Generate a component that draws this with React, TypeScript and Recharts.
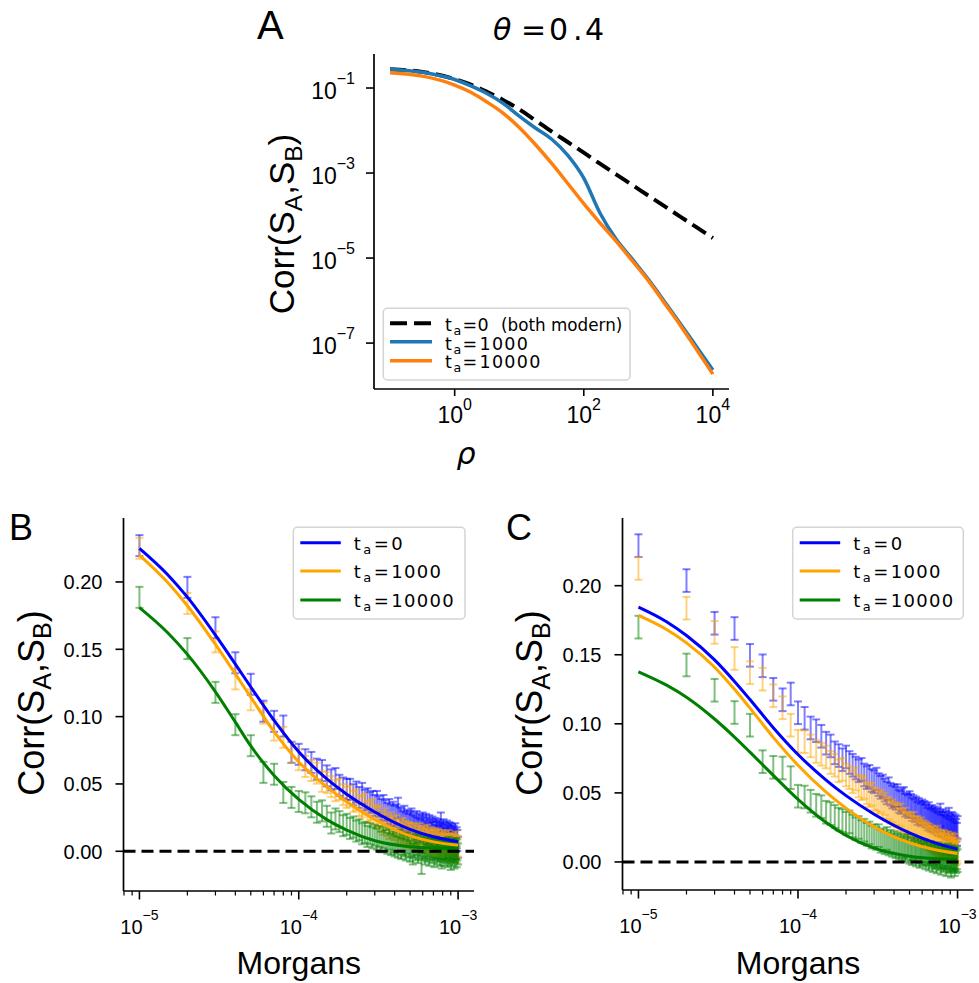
import React from "react";
import {
  ComposedChart,
  Line,
  Scatter,
  ErrorBar,
  XAxis,
  YAxis,
  ReferenceLine,
} from "recharts";

const W = 979;
const H = 983;
const SANS = "'Liberation Sans', Arial, sans-serif";
const DEJAVU = "'DejaVu Sans', sans-serif";

// ---------- panel A: theta = 0.4, correlation vs rho (log-log) ----------
const RHO = [
  0.1, 0.316, 1, 1.78, 3.16, 5.62, 10, 17.8, 31.6, 56.2, 100, 178, 316, 562, 1000, 1778, 3162, 5623, 10000,
];
const A_TA0 = [
  0.2754, 0.2399, 0.1622, 0.1202, 0.0813, 0.0525, 0.0316, 0.0174, 0.00955, 0.00537, 0.00302, 0.00166,
  0.000933, 0.000525, 0.000295, 0.000166, 9.33e-5, 5.25e-5, 2.95e-5,
];
const A_TA1000 = [
  0.2754, 0.2344, 0.1585, 0.1122, 0.0741, 0.0437, 0.0219, 0.01148, 0.00631, 0.00263, 0.000759, 0.000115,
  2.82e-5, 9.55e-6, 3.16e-6, 9.55e-7, 2.82e-7, 8.13e-8, 2.34e-8,
];
const A_TA10000 = [
  0.2291, 0.1905, 0.1175, 0.0794, 0.0468, 0.0257, 0.01175, 0.00468, 0.0017, 0.000575, 0.000191, 6.76e-5,
  2.51e-5, 8.71e-6, 2.95e-6, 8.71e-7, 2.57e-7, 6.92e-8, 1.86e-8,
];
const A_XTICKS = [1, 100, 10000];
const A_YTICKS = [1e-7, 1e-5, 1e-3, 1e-1];

// ---------- panels B and C: distance grid (in units of 1e-5 Morgans) ----------
const STEPS = [
  1, 2, 3, 4, 5, 6, 7, 8, 9, 10, 11, 12, 13, 14, 15, 16, 17, 18, 19, 20,
  21, 22, 23, 24, 25, 26, 27, 28, 29, 30, 31, 32, 33, 34, 35, 36, 37, 38, 39, 40,
  41, 42, 43, 44, 45, 46, 47, 48, 49, 50, 51, 52, 53, 54, 55, 56, 57, 58, 59, 60,
  61, 62, 63, 64, 65, 66, 67, 68, 69, 70, 71, 72, 73, 74, 75, 76, 77, 78, 79, 80,
  81, 82, 83, 84, 85, 86, 87, 88, 89, 90, 91, 92, 93, 94, 95, 96, 97, 98, 99, 100,
];
const MORGANS = STEPS.map((k) => k * 1e-5);

const B_ERR = 0.0078;
const C_ERR = 0.0082;

const B_PTS_TA0 = [
  0.227, 0.196, 0.166, 0.140, 0.124, 0.104, 0.0965, 0.093, 0.0735, 0.072,
  0.068, 0.066, 0.061, 0.060, 0.056, 0.053, 0.054, 0.049, 0.047, 0.046,
  0.046, 0.042, 0.044, 0.040, 0.043, 0.038, 0.039, 0.036, 0.037, 0.034,
  0.037, 0.033, 0.031, 0.034, 0.030, 0.028, 0.031, 0.027, 0.029, 0.026,
  0.027, 0.032, 0.025, 0.024, 0.022, 0.026, 0.021, 0.023, 0.020, 0.022,
  0.024, 0.019, 0.021, 0.018, 0.022, 0.017, 0.020, 0.016, 0.019, 0.021,
  0.018, 0.015, 0.020, 0.017, 0.013, 0.019, 0.016, 0.014, 0.018, 0.015,
  0.012, 0.017, 0.014, 0.016, 0.011, 0.015, 0.013, 0.021, 0.012, 0.014,
  0.016, 0.010, 0.013, 0.009, 0.015, 0.012, 0.011, 0.014, 0.008, 0.013,
  0.010, 0.012, 0.007, 0.011, 0.009, 0.013, 0.002, 0.010, 0.008, 0.003,
];
const B_PTS_TA1000 = [
  0.225, 0.184, 0.1555, 0.128, 0.1125, 0.1025, 0.090, 0.0846, 0.0734, 0.068,
  0.063, 0.060, 0.058, 0.052, 0.051, 0.048, 0.045, 0.046, 0.042, 0.040,
  0.041, 0.037, 0.038, 0.034, 0.033, 0.035, 0.030, 0.029, 0.031, 0.027,
  0.025, 0.026, 0.022, 0.020, 0.024, 0.019, 0.017, 0.021, 0.018, 0.016,
  0.019, 0.014, 0.016, 0.013, 0.017, 0.012, 0.015, 0.011, 0.014, 0.013,
  0.010, 0.013, 0.009, 0.012, 0.008, 0.011, 0.013, 0.007, 0.010, 0.009,
  0.011, 0.006, 0.009, 0.012, 0.007, 0.008, 0.005, 0.010, 0.006, 0.009,
  0.004, 0.008, 0.007, 0.003, 0.009, 0.006, 0.005, 0.002, 0.008, 0.004,
  0.006, 0.003, 0.007, 0.001, 0.005, 0.004, 0.008, 0.002, 0.005, 0.003,
  0.001, 0.006, 0.004, 0.000, 0.005, 0.002, 0.007, -0.001, 0.004, 0.003,
];
const B_PTS_TA10000 = [
  0.1886, 0.1505, 0.118, 0.094, 0.0784, 0.0586, 0.0572, 0.0437, 0.040, 0.037,
  0.036, 0.033, 0.029, 0.030, 0.026, 0.021, 0.024, 0.022, 0.019, 0.020,
  0.017, 0.018, 0.015, 0.016, 0.013, 0.014, 0.011, 0.013, 0.010, 0.012,
  0.009, 0.011, 0.007, 0.010, 0.008, 0.006, 0.009, 0.005, 0.007, 0.004,
  0.006, 0.003, 0.008, 0.002, 0.005, 0.004, 0.001, 0.006, 0.003, 0.000,
  0.004, -0.002, 0.003, 0.001, 0.005, -0.001, 0.002, 0.004, -0.009, 0.001,
  0.003, -0.002, 0.002, 0.000, 0.004, -0.003, 0.001, 0.003, -0.001, 0.002,
  -0.004, 0.001, 0.003, -0.002, 0.000, 0.002, -0.003, 0.001, -0.005, 0.002,
  0.000, -0.003, 0.002, -0.001, 0.001, -0.004, 0.003, -0.002, 0.000, -0.006,
  0.001, -0.003, 0.002, -0.001, -0.005, 0.000, 0.002, -0.004, 0.001, -0.002,
];

const C_PTS_TA0 = [
  0.229, 0.2037, 0.1728, 0.169, 0.1496, 0.142, 0.125, 0.1174, 0.1216, 0.108,
  0.104, 0.097, 0.095, 0.091, 0.086, 0.084, 0.079, 0.077, 0.074, 0.076,
  0.072, 0.070, 0.068, 0.066, 0.067, 0.063, 0.061, 0.062, 0.059, 0.058,
  0.060, 0.056, 0.054, 0.055, 0.052, 0.050, 0.053, 0.049, 0.047, 0.048,
  0.046, 0.048, 0.044, 0.043, 0.045, 0.046, 0.041, 0.042, 0.040, 0.043,
  0.041, 0.038, 0.040, 0.037, 0.039, 0.035, 0.038, 0.036, 0.034, 0.037,
  0.035, 0.036, 0.033, 0.034, 0.031, 0.035, 0.032, 0.030, 0.033, 0.031,
  0.029, 0.032, 0.030, 0.028, 0.031, 0.027, 0.029, 0.034, 0.026, 0.028,
  0.030, 0.026, 0.028, 0.025, 0.029, 0.024, 0.027, 0.031, 0.023, 0.026,
  0.025, 0.028, 0.022, 0.027, 0.024, 0.021, 0.026, 0.023, 0.020, 0.025,
];
const C_PTS_TA1000 = [
  0.2125, 0.1837, 0.1662, 0.1473, 0.137, 0.1323, 0.1203, 0.1116, 0.099, 0.0874,
  0.087, 0.084, 0.080, 0.078, 0.076, 0.072, 0.070, 0.066, 0.067, 0.063,
  0.061, 0.058, 0.060, 0.055, 0.053, 0.054, 0.050, 0.048, 0.049, 0.046,
  0.045, 0.043, 0.044, 0.040, 0.042, 0.038, 0.039, 0.036, 0.037, 0.034,
  0.035, 0.033, 0.031, 0.034, 0.030, 0.029, 0.031, 0.027, 0.028, 0.026,
  0.027, 0.025, 0.028, 0.024, 0.022, 0.025, 0.023, 0.021, 0.024, 0.020,
  0.022, 0.019, 0.021, 0.018, 0.020, 0.017, 0.019, 0.016, 0.018, 0.015,
  0.017, 0.014, 0.016, 0.013, 0.018, 0.012, 0.015, 0.011, 0.014, 0.013,
  0.012, 0.015, 0.010, 0.013, 0.011, 0.009, 0.014, 0.010, 0.012, 0.008,
  0.011, 0.009, 0.013, 0.007, 0.010, 0.008, 0.012, 0.006, 0.009, 0.007,
];
const C_PTS_TA10000 = [
  0.170, 0.1426, 0.1243, 0.1082, 0.099, 0.0726, 0.0685, 0.068, 0.061, 0.0476,
  0.047, 0.044, 0.041, 0.040, 0.036, 0.035, 0.033, 0.031, 0.030, 0.028,
  0.029, 0.026, 0.024, 0.025, 0.022, 0.023, 0.020, 0.021, 0.018, 0.019,
  0.017, 0.019, 0.015, 0.016, 0.014, 0.017, 0.013, 0.015, 0.012, 0.014,
  0.011, 0.013, 0.010, 0.012, 0.009, 0.011, 0.008, 0.010, 0.012, 0.007,
  0.009, 0.006, 0.010, 0.008, 0.005, 0.009, 0.007, 0.004, 0.008, 0.006,
  0.005, 0.008, 0.003, 0.007, 0.006, 0.002, 0.005, 0.007, 0.004, 0.001,
  0.006, 0.003, 0.005, 0.000, 0.004, 0.006, 0.002, 0.004, -0.001, 0.003,
  0.005, 0.001, 0.003, 0.004, -0.002, 0.002, 0.005, 0.000, 0.003, 0.001,
  -0.003, 0.004, 0.002, 0.001, 0.003, -0.002, 0.002, 0.000, 0.003, 0.001,
];

// theoretical curves for B and C (roughly log-spaced sample points)
const FIT_X = [1e-5, 1.5e-5, 2e-5, 3e-5, 4e-5, 5e-5, 7e-5, 1e-4, 1.5e-4, 2e-4, 3e-4, 5e-4, 7e-4, 1e-3];
const B_FIT_TA0 = [0.225, 0.2056, 0.1887, 0.1605, 0.139, 0.122, 0.0972, 0.0739, 0.0537, 0.0424, 0.0292, 0.0163, 0.0108, 0.0071];
const B_FIT_TA1000 = [0.220, 0.1998, 0.1823, 0.1536, 0.1317, 0.1144, 0.0888, 0.0663, 0.0478, 0.0368, 0.0236, 0.0114, 0.007, 0.0045];
const B_FIT_TA10000 = [0.181, 0.1625, 0.1462, 0.1184, 0.0959, 0.0782, 0.0563, 0.0385, 0.0235, 0.0157, 0.0078, 0.0034, 0.0025, 0.0022];
const C_FIT_TA0 = [0.1845, 0.1739, 0.1639, 0.1463, 0.1307, 0.1176, 0.0972, 0.0778, 0.0593, 0.048, 0.0346, 0.0211, 0.0144, 0.0093];
const C_FIT_TA1000 = [0.1785, 0.1683, 0.1586, 0.141, 0.125, 0.1114, 0.0902, 0.070, 0.0506, 0.039, 0.0254, 0.0139, 0.0092, 0.0061];
const C_FIT_TA10000 = [0.1377, 0.128, 0.1193, 0.1035, 0.0904, 0.0795, 0.0627, 0.0453, 0.0286, 0.0192, 0.010, 0.0042, 0.0025, 0.0019];

const BC_XTICKS = [
  8e-6, 9e-6, 1e-5, 2e-5, 3e-5, 4e-5, 5e-5, 6e-5, 7e-5, 8e-5, 9e-5,
  1e-4, 2e-4, 3e-4, 4e-4, 5e-4, 6e-4, 7e-4, 8e-4, 9e-4, 1e-3,
];
const BC_YTICKS = [0, 0.05, 0.1, 0.15, 0.2];

const BLUE = "#0000ff";
const ORANGE = "#ffa500";
const GREEN = "#008000";

// plot areas in page pixels
const PA = { left: 374, right: 729, top: 54, bottom: 389 };
const PB = { left: 123.5, right: 474, top: 518, bottom: 891 };
const PC = { left: 622.5, right: 973.5, top: 518, bottom: 890 };

const Y_AXIS_W = 60;
const X_AXIS_H = 30;
const marginFor = (p: typeof PA) => ({
  left: p.left - Y_AXIS_W,
  right: W - p.right,
  top: p.top,
  bottom: H - p.bottom - X_AXIS_H,
});

const pairs = (xs: number[], ys: number[]) => xs.map((x, i) => ({ x, y: ys[i] }));
const withErr = (xs: number[], ys: number[], err: number) =>
  xs.map((x, i) => ({ x, y: ys[i], err }));

const supText = (e: number) => (e < 0 ? "\u2212" + Math.abs(e) : String(e));

const EmptyShape = () => <g />;

const makeLogXTick =
  (axisY: number, o: { major: number; minor: number; font: number; sup: number; base: number; supDy: number }) =>
  (props: any) => {
    const { x, payload } = props;
    const lg = Math.log10(payload.value);
    const isMajor = Math.abs(lg - Math.round(lg)) < 1e-6;
    return (
      <g>
        <line
          x1={x}
          x2={x}
          y1={axisY}
          y2={axisY + (isMajor ? o.major : o.minor)}
          stroke="#000"
          strokeWidth={isMajor ? 1.6 : 1.2}
        />
        {isMajor && (
          <text x={x} y={axisY + o.base} textAnchor="middle" fontFamily={SANS} fontSize={o.font} fill="#000">
            10
            <tspan dy={o.supDy} fontSize={o.sup}>
              {supText(Math.round(lg))}
            </tspan>
          </text>
        )}
      </g>
    );
  };

const makeLogYTick = (axisX: number) => (props: any) => {
  const { y, payload } = props;
  const e = Math.round(Math.log10(payload.value));
  return (
    <g>
      <line x1={axisX - 8} x2={axisX} y1={y} y2={y} stroke="#000" strokeWidth={1.6} />
      <text x={axisX - 19} y={y + 11} textAnchor="end" fontFamily={SANS} fontSize={23} fill="#000">
        10
        <tspan dy={-15} fontSize={16}>
          {supText(e)}
        </tspan>
      </text>
    </g>
  );
};

const makeLinYTick = (axisX: number) => (props: any) => {
  const { y, payload } = props;
  return (
    <g>
      <line x1={axisX - 8} x2={axisX} y1={y} y2={y} stroke="#000" strokeWidth={1.6} />
      <text x={axisX - 21} y={y + 7.5} textAnchor="end" fontFamily={SANS} fontSize={20} fill="#000">
        {Number(payload.value).toFixed(2)}
      </text>
    </g>
  );
};

const spine = { stroke: "#000", strokeWidth: 1.7 };

const PanelA = () => (
  <ComposedChart width={W} height={H} margin={marginFor(PA)}>
    <XAxis
      dataKey="x"
      type="number"
      scale="log"
      domain={[Math.pow(10, -1.25), Math.pow(10, 4.25)]}
      allowDataOverflow
      ticks={A_XTICKS}
      interval={0}
      height={X_AXIS_H}
      axisLine={spine}
      tickLine={false}
      tick={makeLogXTick(PA.bottom, { major: 7, minor: 4, font: 23, sup: 16, base: 34, supDy: -13 })}
    />
    <YAxis
      dataKey="y"
      type="number"
      scale="log"
      domain={[Math.pow(10, -8.08), Math.pow(10, -0.2)]}
      allowDataOverflow
      ticks={A_YTICKS}
      interval={0}
      width={Y_AXIS_W}
      axisLine={spine}
      tickLine={false}
      tick={makeLogYTick(PA.left)}
    />
    <Line data={pairs(RHO, A_TA0)} dataKey="y" type="monotone" stroke="#000" strokeWidth={4} strokeDasharray="16 7" dot={false} isAnimationActive={false} />
    <Line data={pairs(RHO, A_TA1000)} dataKey="y" type="monotone" stroke="#1f77b4" strokeWidth={3.5} dot={false} isAnimationActive={false} />
    <Line data={pairs(RHO, A_TA10000)} dataKey="y" type="monotone" stroke="#ff7f0e" strokeWidth={3.5} dot={false} isAnimationActive={false} />
  </ComposedChart>
);

const ErrPanel = ({
  p,
  yDomain,
  pts,
  fits,
  err,
}: {
  p: typeof PA;
  yDomain: [number, number];
  pts: number[][];
  fits: number[][];
  err: number;
}) => {
  const colors = [BLUE, ORANGE, GREEN];
  return (
    <ComposedChart width={W} height={H} margin={marginFor(p)}>
      <XAxis
        dataKey="x"
        type="number"
        scale="log"
        domain={[Math.pow(10, -5.1), Math.pow(10, -2.9)]}
        allowDataOverflow
        ticks={BC_XTICKS}
        interval={0}
        height={X_AXIS_H}
        axisLine={spine}
        tickLine={false}
        tick={makeLogXTick(p.bottom, { major: 8.5, minor: 4.5, font: 20, sup: 14, base: 42.5, supDy: -14 })}
      />
      <YAxis
        dataKey="y"
        type="number"
        domain={yDomain}
        allowDataOverflow
        ticks={BC_YTICKS}
        interval={0}
        width={Y_AXIS_W}
        axisLine={spine}
        tickLine={false}
        tick={makeLinYTick(p.left)}
      />
      {pts.map((ys, i) => (
        <Scatter
          key={"s" + i}
          data={withErr(MORGANS, ys, err)}
          dataKey="y"
          shape={EmptyShape}
          isAnimationActive={false}
        >
          <ErrorBar
            dataKey="err"
            direction="y"
            width={4}
            stroke={colors[i]}
            strokeOpacity={0.5}
            strokeWidth={2}
            isAnimationActive={false}
          />
        </Scatter>
      ))}
      {fits.map((ys, i) => (
        <Line
          key={"l" + i}
          data={pairs(FIT_X, ys)}
          dataKey="y"
          type="monotone"
          stroke={colors[i]}
          strokeWidth={3}
          dot={false}
          isAnimationActive={false}
        />
      ))}
      <ReferenceLine y={0} stroke="#000" strokeWidth={3} strokeDasharray="12 6" />
    </ComposedChart>
  );
};

const CorrLabel = ({ x, y, size }: { x: number; y: number; size: number }) => {
  const s = size * 0.7;
  const d = size * 0.22;
  return (
    <text
      transform={`translate(${x},${y}) rotate(-90)`}
      textAnchor="middle"
      fontFamily={SANS}
      fontSize={size}
      fill="#000"
    >
      Corr(S
      <tspan fontSize={s} dy={d}>A</tspan>
      <tspan dy={-d}>,S</tspan>
      <tspan fontSize={s} dy={d}>B</tspan>
      <tspan dy={-d}>)</tspan>
    </text>
  );
};

// t_a = value legend text
const TaText = ({
  x,
  y,
  value,
  size,
  gaps,
}: {
  x: number;
  y: number;
  value: string;
  size: number;
  gaps: [number, number, number];
}) => (
  <g fontFamily={DEJAVU} fill="#000">
    <text x={x} y={y} fontSize={size}>t</text>
    <text x={x + gaps[0]} y={y + 4} fontSize={size * 0.72}>a</text>
    <text x={x + gaps[1]} y={y} fontSize={size}>=</text>
    <text x={x + gaps[2]} y={y} fontSize={size} letterSpacing={1.3}>{value}</text>
  </g>
);

const LegendBC = ({ x, y, w }: { x: number; y: number; w: number }) => {
  const labels = ["0", "1000", "10000"];
  const colors = [BLUE, ORANGE, GREEN];
  const rows = [15.5, 43.8, 72.8];
  return (
    <g>
      <rect x={x} y={y} width={w} height={91.7} rx={4} fill="#fff" fillOpacity={0.8} stroke="#d4d4d4" strokeWidth={1.5} />
      {labels.map((lab, i) => (
        <g key={lab}>
          <line x1={x + 7} x2={x + 47.5} y1={y + rows[i]} y2={y + rows[i]} stroke={colors[i]} strokeWidth={3} />
          <TaText x={x + 60.5} y={y + rows[i] + 7} value={lab} size={18} gaps={[9.5, 20, 37.5]} />
        </g>
      ))}
    </g>
  );
};

const LegendA = () => {
  const x = 383.3;
  const y = 308.3;
  return (
    <g>
      <rect x={x} y={y} width={246.7} height={71.7} rx={4} fill="#fff" fillOpacity={0.8} stroke="#d4d4d4" strokeWidth={1.5} />
      <line x1={390} x2={432} y1={323.3} y2={323.3} stroke="#000" strokeWidth={4} strokeDasharray="17 7" />
      <line x1={390} x2={432} y1={341.7} y2={341.7} stroke="#1f77b4" strokeWidth={3.5} />
      <line x1={390} x2={432} y1={360.7} y2={360.7} stroke="#ff7f0e" strokeWidth={3.5} />
      <TaText x={445} y={331} value="0" size={17.5} gaps={[8.5, 17.5, 32.5]} />
      <text x={501} y={331} fontFamily={DEJAVU} fontSize={16.8} fill="#000">(both</text>
      <text x={551} y={331} fontFamily={DEJAVU} fontSize={16.8} fill="#000">modern)</text>
      <TaText x={445} y={349.5} value="1000" size={17.5} gaps={[8.5, 17.5, 34.5]} />
      <TaText x={445} y={368.3} value="10000" size={17.5} gaps={[8.5, 17.5, 34.5]} />
    </g>
  );
};

const Overlay = () => (
  <svg width={W} height={H} style={{ position: "absolute", left: 0, top: 0, pointerEvents: "none" }}>
    {/* panel letters */}
    <text x={257} y={39} fontFamily={SANS} fontSize={40} fill="#000">A</text>
    <text x={9} y={540} fontFamily={SANS} fontSize={36} fill="#000">B</text>
    <text x={506} y={540} fontFamily={SANS} fontSize={36} fill="#000">C</text>

    {/* panel A title and axis labels */}
    <g fontFamily={DEJAVU} fontSize={30} fill="#000">
      <text x={493} y={40} fontStyle="italic">θ</text>
      <text x={521} y={40}>=</text>
      <text x={549} y={40}>0</text>
      <text x={573} y={40}>.</text>
      <text x={585} y={40}>4</text>
      <text x={466} y={464} textAnchor="middle" fontStyle="italic">ρ</text>
    </g>
    <CorrLabel x={294} y={224} size={35} />
    <LegendA />

    {/* panel B labels */}
    <CorrLabel x={43.5} y={703} size={36} />
    <text x={(PB.left + PB.right) / 2} y={974} textAnchor="middle" fontFamily={SANS} fontSize={32} fill="#000">
      Morgans
    </text>
    <LegendBC x={293.3} y={527.3} w={171.7} />

    {/* panel C labels */}
    <CorrLabel x={542} y={703} size={36} />
    <text x={(PC.left + PC.right) / 2} y={974} textAnchor="middle" fontFamily={SANS} fontSize={32} fill="#000">
      Morgans
    </text>
    <LegendBC x={792.7} y={527.3} w={170.6} />
  </svg>
);

const layer: React.CSSProperties = { position: "absolute", left: 0, top: 0 };

export default function App() {
  return (
    <div style={{ position: "absolute", left: 0, top: 0, width: W, height: H, background: "#fff", overflow: "hidden" }}>
      <div style={layer}>
        <PanelA />
      </div>
      <div style={layer}>
        <ErrPanel
          p={PB}
          yDomain={[-0.0295, 0.2475]}
          pts={[B_PTS_TA0, B_PTS_TA1000, B_PTS_TA10000]}
          fits={[B_FIT_TA0, B_FIT_TA1000, B_FIT_TA10000]}
          err={B_ERR}
        />
      </div>
      <div style={layer}>
        <ErrPanel
          p={PC}
          yDomain={[-0.0203, 0.249]}
          pts={[C_PTS_TA0, C_PTS_TA1000, C_PTS_TA10000]}
          fits={[C_FIT_TA0, C_FIT_TA1000, C_FIT_TA10000]}
          err={C_ERR}
        />
      </div>
      <Overlay />
    </div>
  );
}
